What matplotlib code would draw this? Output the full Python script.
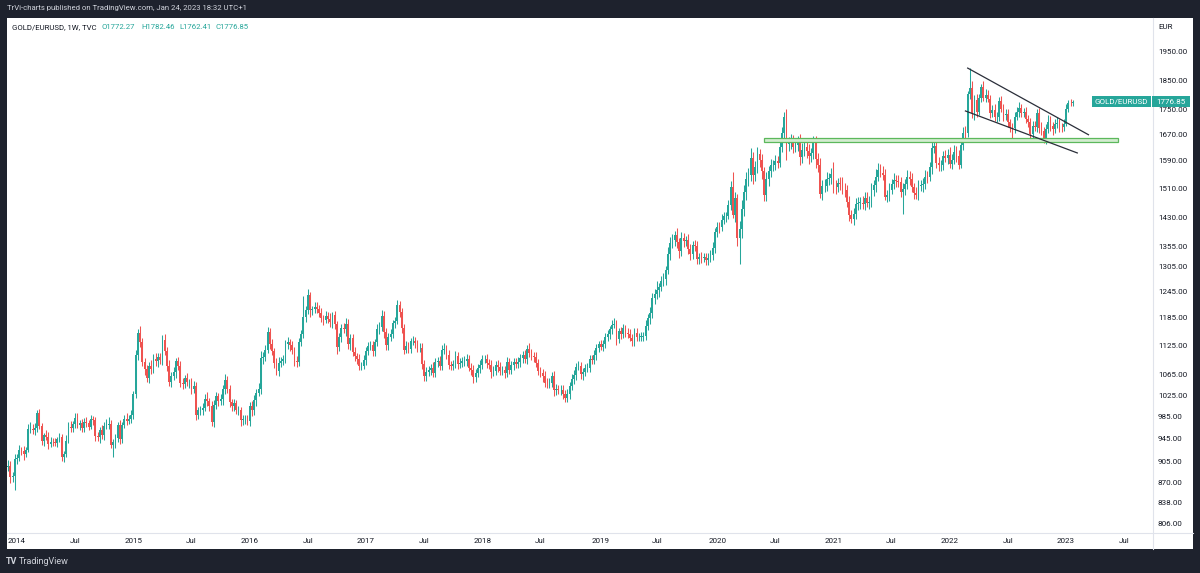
import numpy as np
import pandas as pd
import matplotlib
matplotlib.use("Agg")
import matplotlib.pyplot as plt
from matplotlib.patches import Rectangle
from matplotlib.ticker import NullLocator

plt.rcParams['font.family'] = ['Roboto', 'DejaVu Sans']

# ---------------- data (weekly candles, GOLD priced in EUR) ----------------
first_week = '2013-12-02'
first_open = 920.0

close_2013 = [897, 898, 880, 882, 910]
close_2014 = [912, 925, 924, 919, 926, 963, 963, 960, 965, 991, 968, 941, 951, 949, 936, 940, 939, 938, 944, 948,
              914, 919, 942, 967, 965, 971, 983, 969, 973, 964, 976, 974, 967, 980, 979, 950, 948, 961, 952, 968,
              970, 972, 935, 939, 946, 969, 944, 970, 980, 977, 981, 988]
close_2015 = [1027, 1105, 1153, 1132, 1091, 1077, 1058, 1084, 1077, 1098, 1093, 1101, 1095, 1137, 1114, 1084, 1052,
              1062, 1070, 1094, 1083, 1050, 1048, 1058, 1051, 1051, 1037, 1044, 988, 997, 997, 1002, 1019, 1014,
              1005, 976, 1007, 1023, 1014, 1018, 1037, 1055, 1038, 1013, 1004, 1010, 997, 997, 978, 980, 981, 977]
close_2016 = [1005, 997, 1016, 1030, 1037, 1099, 1102, 1117, 1154, 1129, 1114, 1090, 1073, 1090, 1093, 1097, 1128,
              1132, 1126, 1116, 1094, 1092, 1133, 1151, 1188, 1202, 1236, 1202, 1204, 1210, 1204, 1197, 1184, 1181,
              1190, 1183, 1175, 1191, 1171, 1122, 1143, 1164, 1160, 1171, 1129, 1141, 1112, 1103, 1098, 1084, 1084,
              1095]
close_2017 = [1114, 1125, 1126, 1113, 1132, 1160, 1166, 1190, 1154, 1126, 1144, 1151, 1173, 1179, 1214, 1198, 1163,
              1117, 1124, 1119, 1134, 1135, 1130, 1120, 1121, 1087, 1063, 1071, 1075, 1080, 1069, 1091, 1093, 1083,
              1117, 1119, 1106, 1085, 1084, 1087, 1103, 1087, 1090, 1093, 1093, 1098, 1080, 1075, 1060, 1069, 1078,
              1086]
close_2018 = [1097, 1097, 1090, 1086, 1070, 1073, 1086, 1081, 1073, 1075, 1068, 1091, 1075, 1085, 1091, 1087, 1091,
              1099, 1105, 1098, 1118, 1110, 1103, 1102, 1090, 1072, 1069, 1062, 1050, 1049, 1049, 1062, 1035, 1038,
              1035, 1036, 1028, 1021, 1028, 1044, 1057, 1065, 1082, 1083, 1066, 1070, 1079, 1080, 1097, 1096, 1106,
              1120, 1128]
close_2019 = [1123, 1129, 1143, 1150, 1160, 1170, 1172, 1139, 1156, 1149, 1162, 1152, 1151, 1142, 1134, 1153, 1143,
              1144, 1144, 1146, 1168, 1184, 1196, 1230, 1239, 1248, 1256, 1271, 1275, 1296, 1337, 1364, 1371, 1383,
              1365, 1344, 1377, 1368, 1371, 1349, 1336, 1358, 1355, 1324, 1328, 1327, 1328, 1320, 1327, 1334, 1352,
              1391]
close_2020 = [1405, 1404, 1424, 1433, 1435, 1463, 1514, 1437, 1483, 1377, 1401, 1452, 1499, 1538, 1548, 1598, 1548,
              1571, 1611, 1592, 1559, 1492, 1536, 1559, 1578, 1578, 1591, 1584, 1631, 1677, 1726, 1642, 1644, 1650,
              1633, 1639, 1647, 1601, 1623, 1631, 1620, 1604, 1613, 1644, 1597, 1578, 1495, 1517, 1518, 1536, 1539,
              1552]
close_2021 = [1514, 1513, 1525, 1522, 1506, 1505, 1472, 1437, 1427, 1439, 1466, 1470, 1470, 1466, 1483, 1470, 1472,
              1506, 1519, 1544, 1563, 1554, 1550, 1487, 1492, 1507, 1522, 1534, 1531, 1528, 1499, 1508, 1522, 1542,
              1538, 1513, 1497, 1493, 1518, 1519, 1524, 1543, 1542, 1571, 1629, 1635, 1583, 1577, 1577, 1605, 1598,
              1609]
close_2022 = [1582, 1592, 1618, 1606, 1579, 1638, 1677, 1676, 1802, 1822, 1738, 1783, 1744, 1789, 1826, 1788, 1800,
              1786, 1740, 1748, 1727, 1727, 1779, 1752, 1732, 1737, 1709, 1694, 1691, 1728, 1744, 1756, 1740, 1743,
              1721, 1709, 1673, 1697, 1695, 1740, 1691, 1681, 1650, 1688, 1711, 1697, 1688, 1705, 1707, 1695, 1693,
              1705]
close_2023 = [1754, 1773, 1772.27, 1776.85]

# upper / lower wick lengths beyond the candle body (EUR)
uw_2013 = [8, 10, 9, 6, 8]
lw_2013 = [6, 7, 10, 8, 24]
uw_2014 = [7, 9, 6, 8, 5, 8, 12, 9, 8, 6, 9, 6, 5, 10, 8, 9, 6, 7, 5, 8, 6, 5, 9, 8, 10, 6, 8, 9, 5, 7, 6, 9, 5, 8,
           6, 5, 7, 6, 9, 8, 10, 12, 6, 5, 8, 7, 10, 6, 9, 12, 8, 9]
lw_2014 = [9, 5, 8, 10, 6, 4, 7, 6, 9, 8, 5, 7, 9, 6, 8, 5, 7, 6, 8, 5, 7, 9, 6, 5, 8, 7, 6, 5, 9, 7, 6, 8, 7, 5,
           9, 8, 6, 10, 7, 9, 5, 8, 6, 22, 10, 6, 8, 7, 5, 8, 6, 7]
uw_2015 = [6, 10, 7, 14, 10, 8, 9, 7, 11, 9, 12, 8, 9, 10, 14, 9, 11, 8, 12, 6, 8, 10, 9, 7, 10, 6, 8, 9, 8, 6,
           7, 9, 8, 12, 7, 10, 9, 8, 6, 10, 9, 11, 7, 8, 6, 9, 7, 8, 6, 9, 7, 8]
lw_2015 = [8, 6, 9, 10, 8, 12, 7, 9, 10, 8, 9, 12, 7, 10, 8, 11, 9, 10, 7, 12, 9, 8, 10, 9, 7, 11, 9, 8, 10, 7,
           8, 9, 7, 10, 9, 8, 10, 7, 9, 8, 11, 9, 8, 10, 9, 8, 7, 9, 10, 8, 9, 7]
uw_2016 = [8, 9, 10, 7, 12, 14, 10, 9, 11, 8, 10, 7, 9, 12, 8, 9, 10, 11, 8, 9, 7, 10, 9, 8, 47, 10, 14, 9, 8, 12,
           10, 9, 11, 8, 10, 9, 12, 8, 9, 7, 10, 8, 9, 14, 11, 9, 8, 10, 7, 9, 8, 10]
lw_2016 = [9, 10, 8, 11, 7, 10, 12, 9, 8, 10, 9, 11, 8, 10, 9, 8, 7, 10, 12, 9, 11, 10, 8, 9, 10, 12, 9, 14, 10, 9,
           8, 10, 9, 11, 8, 10, 9, 12, 10, 15, 9, 11, 8, 14, 10, 12, 9, 10, 11, 9, 10, 8]
uw_2017 = [9, 8, 10, 9, 8, 11, 9, 12, 10, 8, 9, 10, 8, 9, 12, 10, 9, 8, 10, 9, 8, 10, 9, 8, 10, 9, 8, 10, 9, 8,
           12, 9, 8, 10, 9, 12, 8, 10, 9, 8, 10, 8, 9, 8, 10, 9, 8, 9, 10, 8, 9, 10]
lw_2017 = [10, 9, 8, 10, 9, 8, 10, 9, 12, 10, 9, 8, 10, 9, 8, 10, 11, 9, 8, 10, 9, 8, 10, 9, 8, 11, 10, 9, 8, 10,
           9, 8, 10, 9, 8, 10, 9, 8, 10, 9, 8, 10, 9, 8, 10, 9, 8, 10, 11, 9, 8, 9]
uw_2018 = [8, 9, 10, 8, 9, 10, 8, 9, 10, 8, 9, 10, 8, 9, 8, 9, 10, 8, 9, 10, 8, 12, 9, 8, 10, 8, 9, 8, 10, 8,
           9, 8, 10, 9, 8, 9, 10, 8, 9, 8, 10, 9, 8, 10, 9, 8, 9, 10, 8, 9, 10, 9, 8]
lw_2018 = [9, 8, 10, 9, 12, 8, 9, 10, 8, 9, 10, 8, 9, 8, 10, 9, 8, 10, 9, 8, 10, 9, 8, 10, 9, 8, 9, 10, 8, 9,
           10, 8, 12, 9, 8, 10, 9, 8, 9, 10, 8, 9, 10, 8, 9, 10, 8, 9, 10, 8, 9, 10, 9]
uw_2019 = [9, 8, 10, 9, 8, 10, 12, 9, 8, 10, 9, 8, 10, 9, 8, 10, 9, 8, 10, 9, 12, 10, 14, 12, 11, 23, 10, 12, 14, 10,
           16, 14, 15, 12, 20, 12, 14, 13, 10, 15, 12, 10, 13, 14, 10, 12, 11, 10, 12, 13, 14, 12]
lw_2019 = [8, 10, 9, 8, 10, 9, 8, 12, 9, 10, 8, 9, 10, 8, 9, 10, 8, 9, 10, 8, 9, 10, 12, 10, 14, 12, 15, 10, 12, 14,
           10, 15, 12, 14, 13, 18, 12, 14, 13, 12, 15, 12, 11, 14, 12, 13, 10, 12, 11, 10, 12, 13]
uw_2020 = [14, 12, 15, 13, 10, 14, 16, 42, 18, 11, 19, 25, 20, 18, 22, 30, 18, 20, 22, 16, 18, 14, 20, 16, 18, 15,
           16, 14, 20, 16, 17, 25, 20, 22, 18, 20, 18, 24, 20, 22, 18, 20, 16, 22, 21, 18, 20, 16, 18, 20, 16, 18]
lw_2020 = [12, 14, 10, 12, 15, 10, 12, 8, 20, 20, 67, 25, 18, 20, 22, 16, 25, 18, 16, 20, 22, 18, 16, 20, 15, 18,
           14, 16, 12, 14, 16, 50, 22, 18, 20, 16, 18, 22, 16, 18, 20, 22, 18, 16, 29, 22, 12, 18, 16, 14, 16, 15]
uw_2021 = [35, 20, 16, 18, 22, 20, 16, 18, 14, 16, 18, 15, 16, 20, 18, 16, 18, 20, 16, 22, 20, 18, 20, 16, 14, 18,
           16, 20, 16, 18, 14, 18, 16, 20, 18, 16, 14, 18, 16, 14, 16, 20, 18, 16, 22, 24, 20, 18, 16, 14, 18, 16]
lw_2021 = [16, 18, 14, 16, 12, 18, 14, 16, 12, 17, 14, 16, 18, 14, 16, 12, 18, 14, 16, 18, 14, 12, 16, 10, 14, 16,
           12, 14, 16, 14, 12, 59, 16, 14, 18, 14, 16, 12, 14, 16, 18, 14, 16, 12, 18, 16, 14, 16, 18, 14, 12, 16]
uw_2022 = [22, 18, 20, 16, 18, 20, 18, 20, 10, 70, 24, 16, 20, 14, 10, 22, 18, 16, 14, 18, 20, 16, 14, 18, 16, 14,
           16, 12, 14, 16, 14, 20, 12, 14, 16, 12, 14, 18, 16, 14, 16, 18, 14, 16, 22, 18, 14, 16, 18, 14, 12, 16]
lw_2022 = [14, 16, 12, 18, 14, 10, 16, 18, 12, 18, 14, 20, 16, 12, 14, 10, 14, 12, 16, 14, 12, 16, 14, 10, 18, 14,
           16, 14, 32, 14, 12, 16, 14, 12, 14, 16, 18, 12, 14, 16, 14, 12, 6, 10, 14, 16, 18, 12, 14, 16, 14, 12]
uw_2023 = [14, 10, 12, 5.61]
lw_2023 = [8, 12, 10, 9.86]

# drawings on the chart
zone_start, zone_end = '2020-06-01', '2023-06-12'
zone_low, zone_high = 1648, 1660
upper_line_dates = ['2022-02-28', '2023-03-13']
upper_line_prices = [1892, 1670]
lower_line_dates = ['2022-02-21', '2023-02-06']
lower_line_prices = [1746, 1614]

y_ticks = [806, 838, 870, 905, 945, 985, 1025, 1065, 1125, 1185, 1245, 1305, 1355, 1430, 1510, 1590,
           1670, 1750, 1850, 1950]
x_tick_dates = ['2014-01-01', '2014-07-01', '2015-01-01', '2015-07-01', '2016-01-01', '2016-07-01',
                '2017-01-01', '2017-07-01', '2018-01-01', '2018-07-01', '2019-01-01', '2019-07-01',
                '2020-01-01', '2020-07-01', '2021-01-01', '2021-07-01', '2022-01-01', '2022-07-01',
                '2023-01-01', '2023-07-01']
x_tick_labels = ['2014', 'Jul', '2015', 'Jul', '2016', 'Jul', '2017', 'Jul', '2018', 'Jul', '2019', 'Jul',
                 '2020', 'Jul', '2021', 'Jul', '2022', 'Jul', '2023', 'Jul']

# ---------------- assemble ----------------
closes = np.array(close_2013 + close_2014 + close_2015 + close_2016 + close_2017 + close_2018 +
                  close_2019 + close_2020 + close_2021 + close_2022 + close_2023, dtype=float)
uw = np.array(uw_2013 + uw_2014 + uw_2015 + uw_2016 + uw_2017 + uw_2018 + uw_2019 + uw_2020 +
              uw_2021 + uw_2022 + uw_2023, dtype=float)
lw = np.array(lw_2013 + lw_2014 + lw_2015 + lw_2016 + lw_2017 + lw_2018 + lw_2019 + lw_2020 +
              lw_2021 + lw_2022 + lw_2023, dtype=float)
assert len(closes) == len(uw) == len(lw) == 478, (len(closes), len(uw), len(lw))

opens = np.concatenate([[first_open], closes[:-1]])
highs = np.maximum(opens, closes) + uw
lows = np.minimum(opens, closes) - lw

ref = pd.Timestamp('2014-01-06')
dates = pd.date_range(first_week, periods=len(closes), freq='W-MON')
xs = ((dates - ref).days / 7.0).values


def week_pos(d):
    return (pd.Timestamp(d) - ref).days / 7.0


W, H = 1200, 573
GREEN, RED = '#26a69a', '#ef5350'
FS = 5.8

fig = plt.figure(figsize=(W / 100, H / 100), dpi=100, facecolor='#1e222d')

bg = fig.add_axes([0, 0, 1, 1], zorder=0)
bg.set_xlim(0, W); bg.set_ylim(H, 0); bg.axis('off')
bg.add_patch(Rectangle((7, 18), 1186, 531, facecolor='white', edgecolor='none'))
bg.plot([7, 1193], [532.5, 532.5], color='#e0e3eb', lw=0.8)
bg.plot([1152.5, 1152.5], [18, 549], color='#e0e3eb', lw=0.8)

ax = fig.add_axes([7 / W, 41 / H, 1145 / W, 514 / H], zorder=1)
ax.set_facecolor('none')
ax.set_yscale('log')
ax.set_ylim(793.7, 2078)
ax.set_xlim(-4.47, 507.4)
for s in ax.spines.values():
    s.set_visible(False)

up = closes >= opens
col = np.where(up, GREEN, RED)
ax.vlines(xs, lows, highs, colors=col, lw=0.75, zorder=2)
body_lo = np.minimum(opens, closes)
body_h = np.maximum(np.abs(closes - opens), 1.0)
ax.bar(xs, body_h, bottom=body_lo, width=0.78, color=col, edgecolor='none', zorder=3)

# support zone
z0, z1 = week_pos(zone_start), week_pos(zone_end)
ax.add_patch(Rectangle((z0, zone_low), z1 - z0, zone_high - zone_low, facecolor='#d3ecd0',
                       edgecolor='#5cb85c', lw=0.9, zorder=4))
# wedge lines
ax.plot([week_pos(d) for d in upper_line_dates], upper_line_prices, color='#2a2e39', lw=0.9, zorder=5)
ax.plot([week_pos(d) for d in lower_line_dates], lower_line_prices, color='#2a2e39', lw=0.9, zorder=5)

ax.yaxis.tick_right()
ax.set_yticks(y_ticks)
ax.set_yticklabels([f'{v:.2f}' for v in y_ticks])
ax.yaxis.set_minor_locator(NullLocator())
ax.tick_params(axis='y', length=0, pad=4.3, labelsize=FS, labelcolor='#131722')

xt = [np.ceil(week_pos(d)) for d in x_tick_dates]
ax.set_xticks(xt)
ax.set_xticklabels(x_tick_labels)
ax.xaxis.set_minor_locator(NullLocator())
ax.tick_params(axis='x', length=0, pad=4.3, labelsize=FS, labelcolor='#131722')

# overlay texts / price label
ov = fig.add_axes([0, 0, 1, 1], zorder=3)
ov.set_xlim(0, W); ov.set_ylim(H, 0); ov.axis('off')
ov.patch.set_alpha(0)

ov.text(7, 8, 'TrVi-charts published on TradingView.com, Jan 24, 2023 18:32 UTC+1',
        color='#d1d4dc', fontsize=5.6, va='center', ha='left')
ov.text(12, 27, 'GOLD/EURUSD, 1W, TVC', color='#131722', fontsize=5.6, va='center', ha='left')
ohlc = [('O', '1772.27'), ('H', '1782.46'), ('L', '1762.41'), ('C', '1776.85')]
xpos = [101, 141, 179, 215]
for (k, v), xp in zip(ohlc, xpos):
    ov.text(xp, 27, k + v, color=GREEN, fontsize=5.6, va='center', ha='left')
ov.text(1158, 27, 'EUR', color='#131722', fontsize=FS, va='center', ha='left')

fig.canvas.draw()
last_y = H - ax.transData.transform((0, closes[-1]))[1]
ov.add_patch(Rectangle((1092, last_y - 5.5), 59, 11, facecolor=GREEN, edgecolor='none'))
ov.add_patch(Rectangle((1152, last_y - 5.5), 38, 11, facecolor=GREEN, edgecolor='none'))
ov.text(1121.5, last_y, 'GOLD/EURUSD', color='white', fontsize=FS, va='center', ha='center')
ov.text(1171, last_y, f'{closes[-1]:.2f}', color='white', fontsize=FS, va='center', ha='center')

ov.text(6, 562, 'TV', color='#d1d4dc', fontsize=6.5, fontweight='bold', va='center', ha='left')
ov.text(19, 562, 'TradingView', color='#d1d4dc', fontsize=6.5, va='center', ha='left')

fig.savefig('out.png', dpi=100, facecolor=fig.get_facecolor())
